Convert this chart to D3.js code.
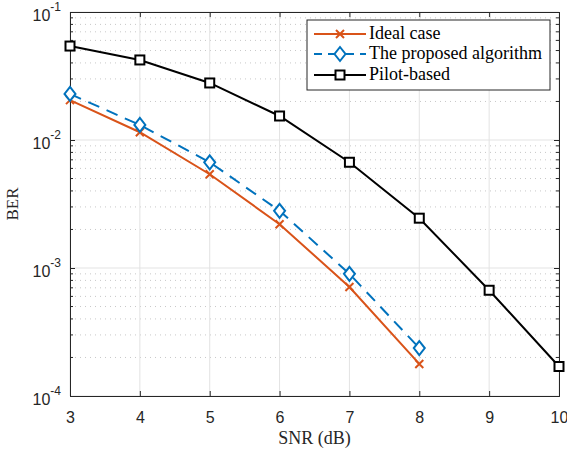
<!DOCTYPE html>
<html>
<head>
<meta charset="utf-8">
<script src="https://cdn.jsdelivr.net/npm/d3@7"></script>
<style>
body { margin: 0; background: #fff; }
</style>
</head>
<body>
<div class="chart"></div>
<script>
let w = 567;
let h = 453;

const snr = [3, 4, 5, 6, 7, 8, 9, 10];
const idealBer = [0.0205, 0.0115, 0.0054, 0.0022, 0.00071, 0.000178];
const proposedBer = [0.0229, 0.0131, 0.0067, 0.0028, 0.00090, 0.000237];
const pilotBer = [0.0542, 0.0422, 0.0279, 0.0154, 0.0067, 0.00245, 0.00067, 0.00017];
const decades = [1e-4, 1e-3, 1e-2, 1e-1];
const decadeLabels = ["-4", "-3", "-2", "-1"];
const legendNames = ["Ideal case", "The proposed algorithm", "Pilot-based"];

const pLeft = 70, pRight = 559, pTop = 12, pBottom = 396;
const sansFont = "'Liberation Sans', Arial, sans-serif";
const serifFont = "'Liberation Serif', 'Times New Roman', serif";

const x = d3.scaleLinear().domain([3, 10]).range([pLeft, pRight]);
const y = d3.scaleLog().domain([1e-4, 1e-1]).range([pBottom, pTop]);

let svg = d3.select('.chart')
	.append('svg')
	.attr('width', w)
	.attr('height', h);

// minor values 2..9 per decade
let minors = [];
decades.slice(0, 3).forEach(function(d){
	for (let k = 2; k <= 9; k++) minors.push(d * k);
});

// grid
svg.append('g').selectAll('line')
	.data(minors)
	.enter().append('line')
	.attr('x1', pLeft).attr('x2', pRight)
	.attr('y1', function(d){ return y(d); })
	.attr('y2', function(d){ return y(d); })
	.attr('stroke', '#c8c8c8')
	.attr('stroke-width', 1)
	.attr('stroke-dasharray', '1,4');

svg.append('g').selectAll('line')
	.data(decades)
	.enter().append('line')
	.attr('x1', pLeft).attr('x2', pRight)
	.attr('y1', function(d){ return y(d); })
	.attr('y2', function(d){ return y(d); })
	.attr('stroke', '#e3e3e3')
	.attr('stroke-width', 1);

svg.append('g').selectAll('line')
	.data(snr)
	.enter().append('line')
	.attr('y1', pTop).attr('y2', pBottom)
	.attr('x1', function(d){ return x(d); })
	.attr('x2', function(d){ return x(d); })
	.attr('stroke', '#e3e3e3')
	.attr('stroke-width', 1);

// axes
const axisColor = '#262626';
svg.append('g')
	.attr('transform', 'translate(0,' + pBottom + ')')
	.call(d3.axisBottom(x).tickValues(snr).tickSize(-5).tickPadding(16).tickFormat(d3.format('d')))
	.call(function(g){
		g.select('.domain').attr('stroke', axisColor);
		g.selectAll('.tick line').attr('stroke', axisColor);
		g.selectAll('text').attr('font-family', sansFont)
			.attr('font-size', '16px').attr('fill', axisColor);
	});

svg.append('g')
	.attr('transform', 'translate(0,' + pTop + ')')
	.call(d3.axisTop(x).tickValues(snr).tickSize(-5).tickFormat(''))
	.call(function(g){
		g.select('.domain').attr('stroke', axisColor);
		g.selectAll('.tick line').attr('stroke', axisColor);
	});

[pLeft, pRight].forEach(function(px, i){
	let ax = (i === 0 ? d3.axisLeft(y) : d3.axisRight(y));
	svg.append('g')
		.attr('transform', 'translate(' + px + ',0)')
		.call(ax.tickValues(decades).tickSize(-5).tickFormat(''))
		.call(function(g){
			g.select('.domain').attr('stroke', axisColor);
			g.selectAll('.tick line').attr('stroke', axisColor);
		});
	svg.append('g').selectAll('line')
		.data(minors)
		.enter().append('line')
		.attr('x1', px).attr('x2', i === 0 ? px + 3 : px - 3)
		.attr('y1', function(d){ return y(d); })
		.attr('y2', function(d){ return y(d); })
		.attr('stroke', axisColor);
});

// y tick labels 10^n
let ylab = svg.append('g').selectAll('text')
	.data(decades)
	.enter().append('text')
	.attr('x', 61)
	.attr('y', function(d){ return y(d) + 9; })
	.attr('text-anchor', 'end')
	.attr('font-family', sansFont)
	.attr('font-size', '16px')
	.attr('fill', axisColor);
ylab.append('tspan').text('10');
ylab.append('tspan')
	.attr('dy', '-10')
	.attr('font-size', '12px')
	.text(function(d, i){ return decadeLabels[i]; });

// axis titles
svg.append('text')
	.attr('x', (pLeft + pRight) / 2)
	.attr('y', 444)
	.attr('text-anchor', 'middle')
	.attr('font-family', serifFont)
	.attr('font-size', '18px')
	.attr('fill', axisColor)
	.text('SNR (dB)');

svg.append('text')
	.attr('transform', 'translate(18,' + (pTop + pBottom) / 2 + ') rotate(-90)')
	.attr('text-anchor', 'middle')
	.attr('font-family', serifFont)
	.attr('font-size', '17px')
	.attr('fill', axisColor)
	.text('BER');

// series
const lineFun = d3.line()
	.x(function(d){ return x(d[0]); })
	.y(function(d){ return y(d[1]); });

function pairs(vals){ return vals.map(function(v, i){ return [snr[i], v]; }); }

const series = [
	{data: pairs(idealBer), color: '#D95319', dash: null, marker: 'x'},
	{data: pairs(proposedBer), color: '#0072BD', dash: '12,8', marker: 'diamond'},
	{data: pairs(pilotBer), color: '#000000', dash: null, marker: 'square'}
];

function drawMarker(g, type, cx, cy, color){
	if (type === 'x') {
		g.append('path')
			.attr('d', 'M' + (cx - 4) + ',' + (cy - 4) + 'L' + (cx + 4) + ',' + (cy + 4) +
				'M' + (cx - 4) + ',' + (cy + 4) + 'L' + (cx + 4) + ',' + (cy - 4))
			.attr('stroke', color).attr('stroke-width', 2).attr('fill', 'none');
	} else if (type === 'diamond') {
		g.append('path')
			.attr('d', 'M' + cx + ',' + (cy - 7) + 'L' + (cx + 5.5) + ',' + cy + 'L' + cx + ',' + (cy + 7) +
				'L' + (cx - 5.5) + ',' + cy + 'Z')
			.attr('stroke', color).attr('stroke-width', 2).attr('fill', '#fff');
	} else {
		g.append('rect')
			.attr('x', cx - 4.5).attr('y', cy - 4.5)
			.attr('width', 9).attr('height', 9)
			.attr('stroke', color).attr('stroke-width', 2).attr('fill', '#fff');
	}
}

series.forEach(function(s){
	svg.append('path')
		.attr('d', lineFun(s.data))
		.attr('stroke', s.color)
		.attr('stroke-width', 2)
		.attr('stroke-dasharray', s.dash)
		.attr('fill', 'none');
	let mg = svg.append('g');
	s.data.forEach(function(d){
		drawMarker(mg, s.marker, x(d[0]), y(d[1]), s.color);
	});
});

// legend
let lg = svg.append('g');
lg.append('rect')
	.attr('x', 307).attr('y', 20)
	.attr('width', 243).attr('height', 70)
	.attr('fill', '#fff')
	.attr('stroke', axisColor)
	.attr('stroke-width', 1);

const rowY = [34, 54, 75];
series.forEach(function(s, i){
	lg.append('line')
		.attr('x1', 314).attr('x2', 366)
		.attr('y1', rowY[i]).attr('y2', rowY[i])
		.attr('stroke', s.color)
		.attr('stroke-width', 2)
		.attr('stroke-dasharray', s.dash ? '10,6' : null)
		.attr('stroke-dashoffset', s.dash ? 2 : null);
	drawMarker(lg, s.marker, 340, rowY[i], s.color);
	lg.append('text')
		.attr('x', 369)
		.attr('y', rowY[i] + 5)
		.attr('font-family', serifFont)
		.attr('font-size', '18px')
		.attr('fill', '#000')
		.text(legendNames[i]);
});
</script>
</body>
</html>
